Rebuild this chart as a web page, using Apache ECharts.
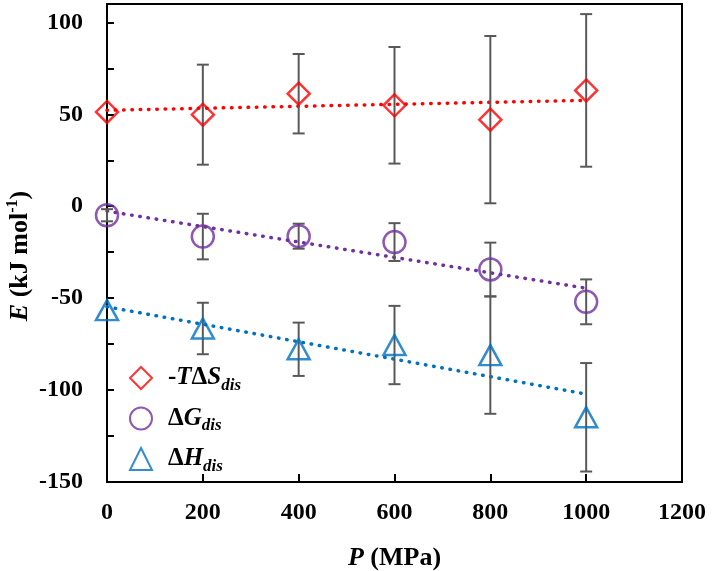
<!DOCTYPE html>
<html>
<head>
<meta charset="utf-8">
<script src="https://cdn.jsdelivr.net/npm/echarts@6/dist/echarts.min.js"></script>
<style>
  html, body { margin: 0; padding: 0; background: #fff; }
  #chart { width: 712px; height: 571px; }
</style>
</head>
<body>
<div id="chart"></div>
<script>
// pressure (MPa)
var pressure = [0, 200, 400, 600, 800, 1000];

// -TΔS, ΔG, ΔH (kJ/mol) and their error bars (±)
var tdsValues = [51.3, 49.8, 61.2, 54.9, 47.1, 63.0];
var tdsErrors = [0, 27.2, 21.6, 31.7, 45.5, 41.5];
var dgValues = [-4.9, -16.5, -16.3, -19.5, -34.4, -52.0];
var dgErrors = [3.3, 12.4, 6.8, 10.3, 14.6, 12.2];
var dhValues = [-56.5, -66.5, -77.8, -75.5, -81.0, -114.8];
var dhErrors = [0, 14.0, 14.5, 21.3, 31.9, 29.5];

// linear trend lines, read at P = 0 and P = 1000
var trendX = [0, 1000];
var tdsTrend = [52.2, 57.6];
var dgTrend = [-2.7, -44.6];
var dhTrend = [-54.7, -102.2];

var xTicks = [0, 200, 400, 600, 800, 1000, 1200];

var FONT = "'Liberation Serif', 'Times New Roman', serif";
var RED = "#FF0000";
var PURPLE = "#7030A0";
var BLUE = "#0070C0";

function pairs(xs, ys) {
  var out = [];
  for (var i = 0; i < xs.length; i++) {
    out.push([xs[i], ys[i]]);
  }
  return out;
}

// [x, low, high] for the custom error bar series
function errorData(values, errors) {
  var out = [];
  for (var i = 0; i < values.length; i++) {
    if (errors[i] > 0) {
      out.push([pressure[i], values[i] - errors[i], values[i] + errors[i]]);
    }
  }
  return out;
}

function renderErrorBar(params, api) {
  var x = api.value(0);
  var top = api.coord([x, api.value(2)]);
  var bottom = api.coord([x, api.value(1)]);
  var half = 6;
  var style = { stroke: "#595959", lineWidth: 2 };
  return {
    type: "group",
    children: [
      { type: "line", shape: { x1: top[0], y1: top[1], x2: bottom[0], y2: bottom[1] }, style: style },
      { type: "line", shape: { x1: top[0] - half, y1: top[1], x2: top[0] + half, y2: top[1] }, style: style },
      { type: "line", shape: { x1: bottom[0] - half, y1: bottom[1], x2: bottom[0] + half, y2: bottom[1] }, style: style },
    ],
  };
}

function errorSeries(values, errors) {
  return {
    type: "custom",
    renderItem: renderErrorBar,
    data: errorData(values, errors),
    z: 3,
    silent: true,
  };
}

function trendSeries(ys, color) {
  return {
    type: "line",
    data: pairs(trendX, ys),
    symbol: "none",
    lineStyle: { color: color, width: 3.5, type: [0.5, 7.8], cap: "round" },
    z: 2,
    silent: true,
  };
}

function markerSeries(name, values, symbol, size, color) {
  return {
    name: name,
    type: "scatter",
    data: pairs(pressure, values),
    symbol: symbol,
    symbolSize: size,
    itemStyle: { color: "rgba(0,0,0,0)", borderColor: color, borderWidth: 2.5 },
    z: 4,
  };
}

var legendText = {
  tds: "-{i|T}Δ{i|S}{s|dis}",
  dg: "Δ{i|G}{s|dis}",
  dh: "Δ{i|H}{s|dis}",
};

var chart = echarts.init(document.getElementById("chart"));
var option = {
  backgroundColor: "#fff",
  animation: false,
  grid: {
    left: 107,
    right: 30,
    top: 4,
    bottom: 89,
    outerBoundsMode: "none",
    show: true,
    borderColor: "#000",
    borderWidth: 2,
  },
  legend: {
    orient: "vertical",
    left: 124,
    top: 357,
    itemWidth: 22,
    itemHeight: 22,
    itemGap: 8.5,
    data: ["tds", "dg", "dh"],
    formatter: function (name) {
      return legendText[name];
    },
    textStyle: {
      fontFamily: FONT,
      fontWeight: "bold",
      fontSize: 25,
      color: "#000",
      lineHeight: 32,
      padding: [0, 0, 0, 11],
      rich: {
        i: { fontFamily: FONT, fontWeight: "bold", fontStyle: "italic", fontSize: 25, color: "#000" },
        s: {
          fontFamily: FONT,
          fontWeight: "bold",
          fontStyle: "italic",
          fontSize: 17,
          lineHeight: 17,
          verticalAlign: "bottom",
          color: "#000",
        },
      },
    },
  },
  xAxis: {
    type: "value",
    min: xTicks[0],
    max: xTicks[xTicks.length - 1],
    interval: 200,
    name: "{i|P} (MPa)",
    nameLocation: "middle",
    nameGap: 63,
    nameTextStyle: {
      fontFamily: FONT,
      fontWeight: "bold",
      fontSize: 26,
      color: "#000",
      rich: {
        i: { fontFamily: FONT, fontWeight: "bold", fontStyle: "italic", fontSize: 26, color: "#000" },
      },
    },
    axisLine: { show: true, onZero: false, lineStyle: { color: "#000", width: 2 } },
    axisTick: { show: true, inside: true, length: 8, lineStyle: { color: "#000", width: 2 } },
    axisLabel: {
      fontFamily: FONT,
      fontWeight: "bold",
      fontSize: 24,
      color: "#000",
      margin: 19,
      formatter: function (v) {
        return String(v);
      },
    },
    splitLine: { show: false },
  },
  yAxis: {
    type: "value",
    min: -150,
    max: 110,
    interval: 25,
    name: "{i|E} (kJ mol{sup|-1})",
    nameLocation: "middle",
    nameGap: 72,
    nameMoveOverlap: false,
    nameTextStyle: {
      fontFamily: FONT,
      fontWeight: "bold",
      fontSize: 26,
      color: "#000",
      lineHeight: 30,
      padding: [0, 26, 0, 0],
      rich: {
        i: { fontFamily: FONT, fontWeight: "bold", fontStyle: "italic", fontSize: 26, color: "#000" },
        sup: { fontFamily: FONT, fontWeight: "bold", fontSize: 16, lineHeight: 16, verticalAlign: "top", color: "#000" },
      },
    },
    axisLine: { show: true, onZero: false, lineStyle: { color: "#000", width: 2 } },
    axisTick: { show: true, inside: true, length: 7, lineStyle: { color: "#000", width: 2 } },
    axisLabel: {
      fontFamily: FONT,
      fontWeight: "bold",
      fontSize: 24,
      color: "#000",
      margin: 24,
      formatter: function (v) {
        // labels every 50, plain ticks every 25
        return v % 50 === 0 ? String(v) : "";
      },
    },
    splitLine: { show: false },
  },
  series: [
    trendSeries(tdsTrend, RED),
    trendSeries(dgTrend, PURPLE),
    trendSeries(dhTrend, BLUE),
    errorSeries(tdsValues, tdsErrors),
    errorSeries(dgValues, dgErrors),
    errorSeries(dhValues, dhErrors),
    markerSeries("tds", tdsValues, "diamond", [22, 22], RED),
    markerSeries("dg", dgValues, "circle", [22, 22], PURPLE),
    markerSeries("dh", dhValues, "triangle", [22, 20], BLUE),
  ],
};
chart.setOption(option);
</script>
</body>
</html>
